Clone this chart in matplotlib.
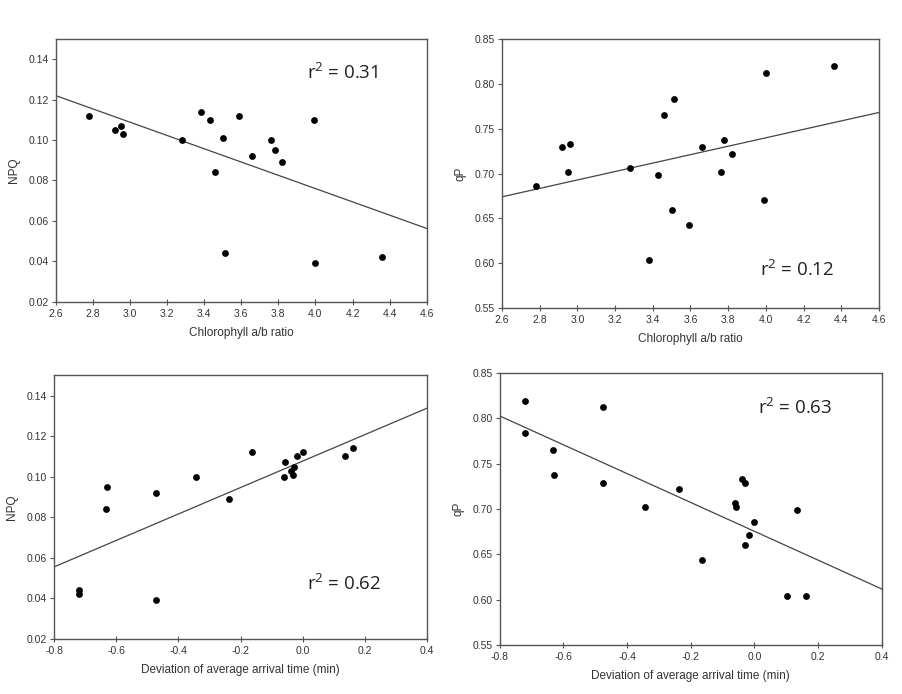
import numpy as np
import matplotlib
matplotlib.use("Agg")
import matplotlib.pyplot as plt

# --- data ---
chl_ratio = [2.78, 2.92, 2.95, 2.96, 3.28, 3.38, 3.43, 3.46, 3.50, 3.51,
             3.59, 3.66, 3.76, 3.78, 3.82, 3.99, 4.00, 4.36]
npq_chl = [0.112, 0.105, 0.107, 0.103, 0.100, 0.114, 0.110, 0.084, 0.101, 0.044,
           0.112, 0.092, 0.100, 0.095, 0.089, 0.110, 0.039, 0.042]
qp_chl = [0.686, 0.729, 0.702, 0.733, 0.706, 0.604, 0.698, 0.765, 0.659, 0.783,
          0.643, 0.729, 0.702, 0.737, 0.722, 0.670, 0.812, 0.820]

dev_npq = [-0.720, -0.720, -0.633, -0.629, -0.473, -0.473, -0.342, -0.237, -0.164,
           -0.061, -0.057, -0.038, -0.030, -0.028, -0.018, 0.000, 0.136, 0.163]
npq_dev = [0.044, 0.042, 0.084, 0.095, 0.092, 0.039, 0.100, 0.089, 0.112,
           0.100, 0.107, 0.103, 0.101, 0.105, 0.110, 0.112, 0.110, 0.114]

dev_qp = [-0.720, -0.720, -0.634, -0.629, -0.474, -0.475, -0.343, -0.238, -0.165,
          -0.061, -0.057, -0.040, -0.030, -0.031, -0.017, -0.002, 0.134, 0.104, 0.161]
qp_dev = [0.819, 0.784, 0.765, 0.737, 0.812, 0.729, 0.702, 0.722, 0.644,
          0.707, 0.702, 0.733, 0.729, 0.660, 0.671, 0.686, 0.699, 0.604, 0.604]

# regression lines (slope, intercept) and r2 labels
fit_slope = [-0.0328, 0.047, 0.0652, -0.159]
fit_icpt = [0.2072, 0.5518, 0.1077, 0.6754]
r2_text = ["0.31", "0.12", "0.62", "0.63"]

chl_ticks = [2.6, 2.8, 3.0, 3.2, 3.4, 3.6, 3.8, 4.0, 4.2, 4.4, 4.6]
dev_ticks = [-0.8, -0.6, -0.4, -0.2, 0.0, 0.2, 0.4]
npq_ticks = [0.02, 0.04, 0.06, 0.08, 0.10, 0.12, 0.14]
qp_ticks = [0.55, 0.60, 0.65, 0.70, 0.75, 0.80, 0.85]

plt.rcParams['font.family'] = ['Liberation Sans', 'DejaVu Sans']
plt.rcParams['mathtext.fontset'] = 'custom'
plt.rcParams['mathtext.rm'] = 'Open Sans'
plt.rcParams['mathtext.it'] = 'Open Sans'

fig = plt.figure(figsize=(9.02, 6.94), dpi=100)

panels = [
    # rect, x, y, xlim, ylim, xticks, yticks, xlabel, ylabel, text pos
    ([0.062, 0.565, 0.411, 0.379], chl_ratio, npq_chl, (2.6, 4.6), (0.02, 0.15),
     chl_ticks, npq_ticks, "Chlorophyll a/b ratio", "NPQ", (0.677, 0.871)),
    ([0.5565, 0.556, 0.418, 0.388], chl_ratio, qp_chl, (2.6, 4.6), (0.55, 0.85),
     chl_ticks, qp_ticks, "Chlorophyll a/b ratio", "qP", (0.684, 0.141)),
    ([0.060, 0.0793, 0.4135, 0.380], dev_npq, npq_dev, (-0.8, 0.4), (0.02, 0.15),
     dev_ticks, npq_ticks, "Deviation of average arrival time (min)", "NPQ", (0.678, 0.208)),
    ([0.554, 0.0706, 0.4235, 0.392], dev_qp, qp_dev, (-0.8, 0.4), (0.55, 0.85),
     dev_ticks, qp_ticks, "Deviation of average arrival time (min)", "qP", (0.675, 0.871)),
]

for i, (rect, xs, ys, xl, yl, xt, yt, xlab, ylab, tpos) in enumerate(panels):
    ax = fig.add_axes(rect)
    ax.scatter(xs, ys, s=24, color='black', zorder=3, linewidths=0)
    lx = np.array(xl)
    ax.plot(lx, fit_slope[i] * lx + fit_icpt[i], color='#444444', lw=0.9, zorder=2)
    ax.set_xlim(*xl)
    ax.set_ylim(*yl)
    ax.set_xticks(xt)
    ax.set_xticklabels(["%.1f" % v for v in xt])
    ax.set_yticks(yt)
    ax.set_yticklabels(["%.2f" % v for v in yt])
    for sp in ax.spines.values():
        sp.set_color('#555555')
        sp.set_linewidth(1.0)
    ax.tick_params(axis='x', direction='inout', length=4, width=0.8,
                   colors='#555555', labelsize=7.5, labelcolor='#333333', pad=3)
    ax.tick_params(axis='y', direction='out', length=3, width=0.8,
                   colors='#555555', labelsize=7.5, labelcolor='#333333', pad=2)
    ax.set_xlabel(xlab, fontsize=8.5, color='#333333', labelpad=6)
    ax.set_ylabel(ylab, fontsize=8.5, color='#333333', labelpad=6)
    ax.text(tpos[0], tpos[1], r"r$^{\mathrm{2}}$ = " + r2_text[i], transform=ax.transAxes,
            fontsize=13.5, family='Open Sans', color='#222222', va='center', ha='left')

fig.savefig("out.png", dpi=100)
